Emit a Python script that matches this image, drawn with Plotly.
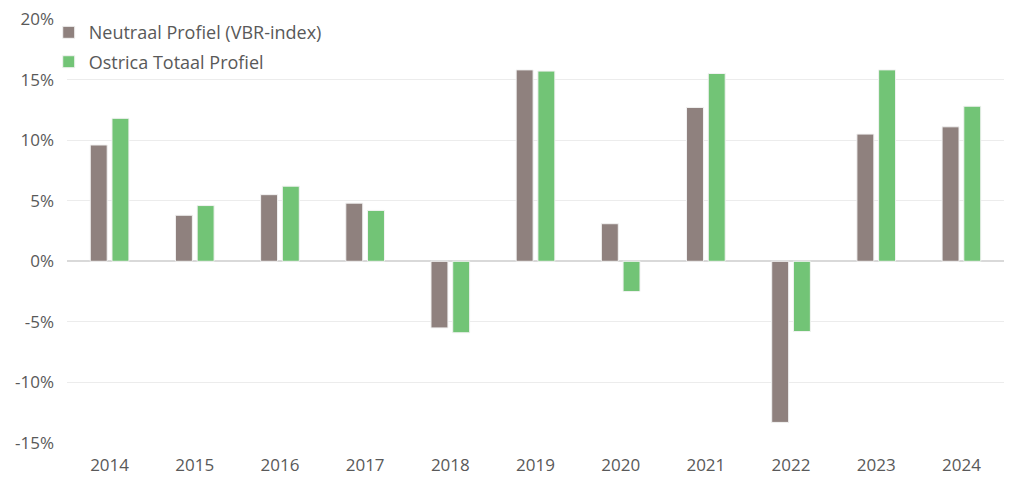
import plotly.graph_objects as go

# ── data ──────────────────────────────────────────────────────────────────────
jaren = ["2014", "2015", "2016", "2017", "2018", "2019",
         "2020", "2021", "2022", "2023", "2024"]
neutraal = [9.6, 3.8, 5.5, 4.8, -5.5, 15.8, 3.1, 12.7, -13.3, 10.5, 11.1]
ostrica = [11.8, 4.6, 6.2, 4.2, -5.9, 15.7, -2.5, 15.5, -5.8, 15.8, 12.8]

y_ticks = [-15, -10, -5, 0, 5, 10, 15, 20]

GRIJS = "#8f817e"
GROEN = "#72c476"
TEKST = "#595959"
FONT = "Open Sans"

fig = go.Figure()
fig.add_trace(go.Bar(
    x=jaren, y=neutraal, name="Neutraal Profiel (VBR-index)",
    legendgroup="neutraal",
    marker=dict(color=GRIJS, line=dict(color="#f2f2f2", width=1)),
))
fig.add_trace(go.Bar(
    x=jaren, y=ostrica, name="Ostrica Totaal Profiel",
    legendgroup="ostrica",
    marker=dict(color=GROEN, line=dict(color="#f2f2f2", width=1)),
))

# de pagina heeft 8px body-marge, daarom marges 8px kleiner links/boven
fig.update_layout(
    width=1024, height=489,
    paper_bgcolor="white", plot_bgcolor="white",
    margin=dict(l=59, r=28, t=11, b=54, autoexpand=False),
    barmode="group", bargap=0.49, bargroupgap=0.22,
    font=dict(family=FONT, size=17, color=TEKST),
    legend=dict(
        x=-0.0195, y=1.0115, xanchor="left", yanchor="top",
        bgcolor="rgba(0,0,0,0)", font=dict(size=18, color=TEKST),
        itemwidth=30, tracegroupgap=3, traceorder="grouped",
    ),
    xaxis=dict(showgrid=False, showline=False, ticks="", automargin=False,
               ticklabelstandoff=10,
               tickfont=dict(size=17, color=TEKST)),
    yaxis=dict(
        range=[-15, 20], tickvals=y_ticks,
        ticktext=[f"{v}%" for v in y_ticks],
        showgrid=True, gridcolor="#ececec", gridwidth=1,
        zeroline=True, zerolinecolor="#d9d9d9", zerolinewidth=1.5,
        showline=False, ticks="", automargin=False, ticklabelstandoff=12,
        ticklabeloverflow="allow",
        tickfont=dict(size=17, color=TEKST),
    ),
)

fig.write_html("out.html")
